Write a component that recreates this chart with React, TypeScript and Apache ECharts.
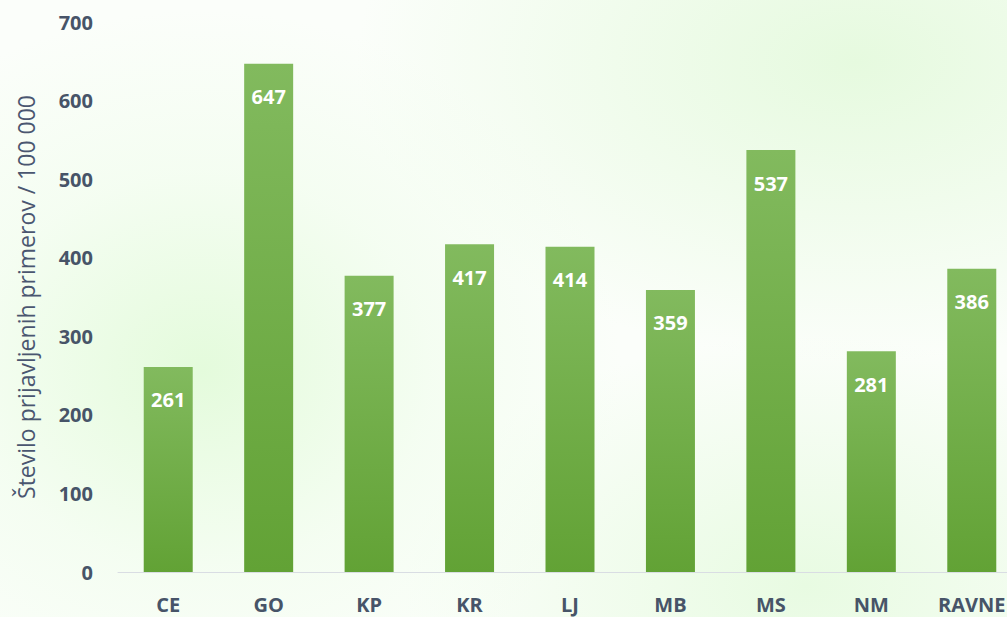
import React, { useEffect, useRef } from "react";
import * as echarts from "echarts";

const categories = ["CE", "GO", "KP", "KR", "LJ", "MB", "MS", "NM", "RAVNE"];
const values = [261, 647, 377, 417, 414, 359, 537, 281, 386];
const yTitle = "Število prijavljenih primerov / 100 000";

const FONT = "'Open Sans', Lato, sans-serif";

export default function App() {
  const ref = useRef<HTMLDivElement>(null);
  useEffect(() => {
    const chart = echarts.init(ref.current!, null, { renderer: "svg" });
    chart.setOption({
      animation: false,
      grid: { left: 118, top: 22, right: 12, height: 550, containLabel: false },
      xAxis: {
        type: "category",
        data: categories,
        axisLine: { lineStyle: { color: "#d9dde3", width: 1 } },
        axisTick: { show: false },
        axisLabel: {
          color: "#475468",
          fontFamily: FONT,
          fontWeight: "bold",
          fontSize: 20,
          margin: 22,
        },
      },
      yAxis: {
        type: "value",
        min: 0,
        max: 700,
        interval: 100,
        name: yTitle,
        nameLocation: "middle",
        nameGap: 81,
        nameTextStyle: {
          color: "#4a5670",
          fontFamily: FONT,
          fontSize: 23,
        },
        axisLine: { show: false },
        axisTick: { show: false },
        splitLine: { show: false },
        axisLabel: {
          color: "#475468",
          fontFamily: FONT,
          fontWeight: "bold",
          fontSize: 20,
          margin: 25,
        },
      },
      series: [
        {
          type: "bar",
          data: values,
          barWidth: 49,
          itemStyle: {
            color: new echarts.graphic.LinearGradient(0, 0, 0, 1, [
              { offset: 0, color: "#82ba5e" },
              { offset: 1, color: "#62a235" },
            ]),
          },
          label: {
            show: true,
            position: "insideTop",
            distance: 23,
            color: "#ffffff",
            fontFamily: FONT,
            fontWeight: "bold",
            fontSize: 20,
          },
        },
      ],
    });
    return () => chart.dispose();
  }, []);
  return (
    <div
      style={{
        position: "fixed",
        left: 0,
        top: 0,
        width: 1007,
        height: 617,
        overflow: "hidden",
        background:
          "radial-gradient(ellipse 420px 360px at 20% 60%, #e4fbdc 0%, rgba(240,253,236,0.6) 55%, rgba(255,255,255,0) 100%), radial-gradient(ellipse 500px 300px at 85% 10%, #e6fadf 0%, rgba(255,255,255,0) 100%), radial-gradient(ellipse 400px 250px at 80% 95%, #e8fbe2 0%, rgba(255,255,255,0) 100%), #fbfefa",
      }}
    >
      <div ref={ref} style={{ width: 1034, height: 617 }} />
    </div>
  );
}
